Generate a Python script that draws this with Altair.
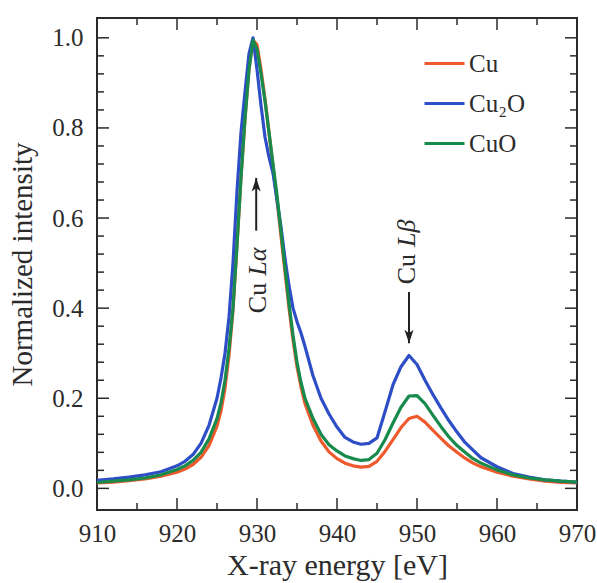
import altair as alt
import pandas as pd

# Emission spectra around the Cu L edge (normalized to the L-alpha maximum)
energy = [910, 912, 914, 916, 918, 920, 921, 922, 923, 924,
          925, 925.5, 926, 926.5, 927, 927.5, 928, 928.5, 929, 929.5,
          930, 930.5, 931, 931.5, 932, 932.5, 933, 933.5, 934, 934.5,
          935, 935.5, 936, 937, 938, 939, 940, 941, 942, 943,
          944, 945, 946, 947, 948, 949, 950, 951, 952, 953,
          954, 955, 956, 957, 958, 960, 962, 964, 966, 968, 970]

cu = [0.012, 0.014, 0.017, 0.021, 0.027, 0.036, 0.043, 0.053, 0.069, 0.095,
      0.138, 0.172, 0.222, 0.295, 0.395, 0.540, 0.690, 0.820, 0.930, 0.995,
      0.985, 0.930, 0.865, 0.790, 0.715, 0.640, 0.560, 0.480, 0.400, 0.330,
      0.270, 0.225, 0.188, 0.140, 0.105, 0.081, 0.066, 0.056, 0.050, 0.047,
      0.049, 0.060, 0.082, 0.108, 0.135, 0.155, 0.160, 0.147, 0.129, 0.111,
      0.094, 0.080, 0.067, 0.056, 0.048, 0.036, 0.027, 0.021, 0.016, 0.013, 0.012]

cu2o = [0.018, 0.021, 0.025, 0.030, 0.037, 0.050, 0.060, 0.075, 0.100, 0.140,
        0.200, 0.245, 0.300, 0.380, 0.500, 0.660, 0.790, 0.880, 0.965, 1.000,
        0.930, 0.850, 0.780, 0.735, 0.700, 0.640, 0.580, 0.510, 0.450, 0.400,
        0.370, 0.345, 0.315, 0.250, 0.200, 0.165, 0.136, 0.113, 0.103, 0.098,
        0.100, 0.112, 0.170, 0.230, 0.270, 0.295, 0.275, 0.240, 0.208, 0.178,
        0.150, 0.125, 0.102, 0.085, 0.068, 0.048, 0.033, 0.025, 0.019, 0.016, 0.014]

cuo = [0.013, 0.016, 0.019, 0.023, 0.030, 0.042, 0.050, 0.062, 0.080, 0.110,
       0.155, 0.190, 0.240, 0.310, 0.400, 0.540, 0.690, 0.820, 0.930, 0.995,
       0.975, 0.920, 0.860, 0.790, 0.720, 0.650, 0.570, 0.490, 0.410, 0.340,
       0.280, 0.235, 0.200, 0.155, 0.120, 0.097, 0.083, 0.072, 0.066, 0.062,
       0.064, 0.078, 0.108, 0.145, 0.180, 0.205, 0.206, 0.188, 0.162, 0.137,
       0.114, 0.095, 0.080, 0.066, 0.056, 0.041, 0.030, 0.023, 0.019, 0.016, 0.014]

series_names = ["Cu", "Cu\u2082O", "CuO"]
series_values = [cu, cu2o, cuo]
series_colors = ["#ee5a2c", "#2d4ec6", "#178a4c"]

# Tick positions
x_major = [910, 920, 930, 940, 950, 960, 970]
x_minor = [915, 925, 935, 945, 955, 965]
y_major = [0.0, 0.2, 0.4, 0.6, 0.8, 1.0]
y_minor = [0.04, 0.08, 0.12, 0.16, 0.24, 0.28, 0.32, 0.36, 0.44, 0.48,
           0.52, 0.56, 0.64, 0.68, 0.72, 0.76, 0.84, 0.88, 0.92, 0.96]

# Peak annotations: energy of the arrow, arrow tail / tip, label anchor
peak_labels = ["L\u03b1", "L\u03b2"]
arrow_energy = [929.9, 949.0]
arrow_tail = [0.572, 0.436]
arrow_tip = [0.689, 0.322]
label_energy = [930.1, 948.75]
label_anchor = [0.464, 0.528]

W, H = 480, 492
FONT = "Liberation Serif"
INK = "#2b2b2b"
MAJOR, MINOR = 12, 7

rows = []
for name, vals in zip(series_names, series_values):
    for e, v in zip(energy, vals):
        rows.append({"energy": e, "intensity": v, "sample": name})
df = pd.DataFrame(rows)

xscale = alt.Scale(domain=[910, 970], nice=False, zero=False)
yscale = alt.Scale(domain=[-0.048, 1.044], nice=False, zero=False)

x_axis = alt.Axis(
    values=x_major, format="d", ticks=False, domain=False, grid=False,
    labelFlush=False, labelOverlap=False,
    labelFont=FONT, labelFontSize=25, labelColor=INK, labelPadding=11,
    title="X-ray energy [eV]", titleFont=FONT, titleFontSize=30,
    titleFontWeight="normal", titleColor=INK, titlePadding=4,
)
y_axis = alt.Axis(
    values=y_major, format=".1f", ticks=False, domain=False, grid=False,
    labelFlush=False, labelOverlap=False,
    labelFont=FONT, labelFontSize=25, labelColor=INK, labelPadding=14,
    title="Normalized intensity", titleFont=FONT, titleFontSize=29,
    titleFontWeight="normal", titleColor=INK, titlePadding=14,
)


def X(field):
    return alt.X(field, type="quantitative", scale=xscale, axis=x_axis)


def Y(field):
    return alt.Y(field, type="quantitative", scale=yscale, axis=y_axis)


color = alt.Color(
    "sample:N",
    scale=alt.Scale(domain=series_names, range=series_colors),
    legend=alt.Legend(
        title=None, orient="none", legendX=326, legendY=24,
        symbolType="stroke", symbolSize=1600, symbolStrokeWidth=3,
        labelFont=FONT, labelFontSize=25, labelColor=INK, labelOffset=3,
        rowPadding=5, padding=0,
    ),
)

base = alt.Chart(df)
layers = []
for name in series_names:
    layers.append(
        base.transform_filter(alt.datum.sample == name)
        .mark_line(strokeWidth=3.2, strokeJoin="round", clip=True)
        .encode(x=X("energy"), y=Y("intensity"), color=color)
    )


# Inward ticks on all four sides of the frame
def xticks(values, length):
    d = pd.DataFrame({"v": values})
    bottom = alt.Chart(d).mark_rule(color=INK, strokeWidth=1.5).encode(
        x=X("v"), y=alt.value(H), y2=alt.value(H - length))
    top = alt.Chart(d).mark_rule(color=INK, strokeWidth=1.5).encode(
        x=X("v"), y=alt.value(0), y2=alt.value(length))
    return [bottom, top]


def yticks(values, length):
    d = pd.DataFrame({"v": values})
    left = alt.Chart(d).mark_rule(color=INK, strokeWidth=1.5).encode(
        y=Y("v"), x=alt.value(0), x2=alt.value(length))
    right = alt.Chart(d).mark_rule(color=INK, strokeWidth=1.5).encode(
        y=Y("v"), x=alt.value(W), x2=alt.value(W - length))
    return [left, right]


ticks = (xticks(x_major, MAJOR) + xticks(x_minor, MINOR)
         + yticks(y_major, MAJOR) + yticks(y_minor, MINOR))

ann = pd.DataFrame({
    "label": peak_labels, "ae": arrow_energy, "tail": arrow_tail, "tip": arrow_tip,
    "le": label_energy, "anchor": label_anchor,
})
ann_base = alt.Chart(ann)
shaft = ann_base.mark_rule(color="#222222", strokeWidth=2).encode(
    x=X("ae"), y=Y("tail"), y2="tip:Q",
)
head_up = ann_base.transform_filter(alt.datum.tip > alt.datum.tail).mark_point(
    shape="M0,-1L0.6,0.8L0,0.35L-0.6,0.8Z", filled=True, color="#222222",
    size=225, opacity=1, yOffset=7.5,
).encode(x=X("ae"), y=Y("tip"))
head_down = ann_base.transform_filter(alt.datum.tip < alt.datum.tail).mark_point(
    shape="M0,1L0.6,-0.8L0,-0.35L-0.6,-0.8Z", filled=True, color="#222222",
    size=225, opacity=1, yOffset=-7.5,
).encode(x=X("ae"), y=Y("tip"))

cu_text = ann_base.mark_text(
    text="Cu", angle=270, align="right", baseline="middle", dx=-3.5,
    font=FONT, fontSize=26, color=INK,
).encode(x=X("le"), y=Y("anchor"))
line_text = ann_base.mark_text(
    angle=270, align="left", baseline="middle", dx=3.5,
    font=FONT, fontSize=26, fontStyle="italic", color=INK,
).encode(x=X("le"), y=Y("anchor"), text="label:N")

chart = alt.layer(
    *layers, *ticks, shaft, head_up, head_down, cu_text, line_text
).properties(
    width=W, height=H,
    autosize=alt.AutoSizeParams(type="none"),
    padding={"left": 97, "top": 18, "right": 20, "bottom": 73},
    background="white",
).configure_view(
    stroke=INK, strokeWidth=2
)

chart.save("out.html", embed_options={"renderer": "svg", "actions": False})
